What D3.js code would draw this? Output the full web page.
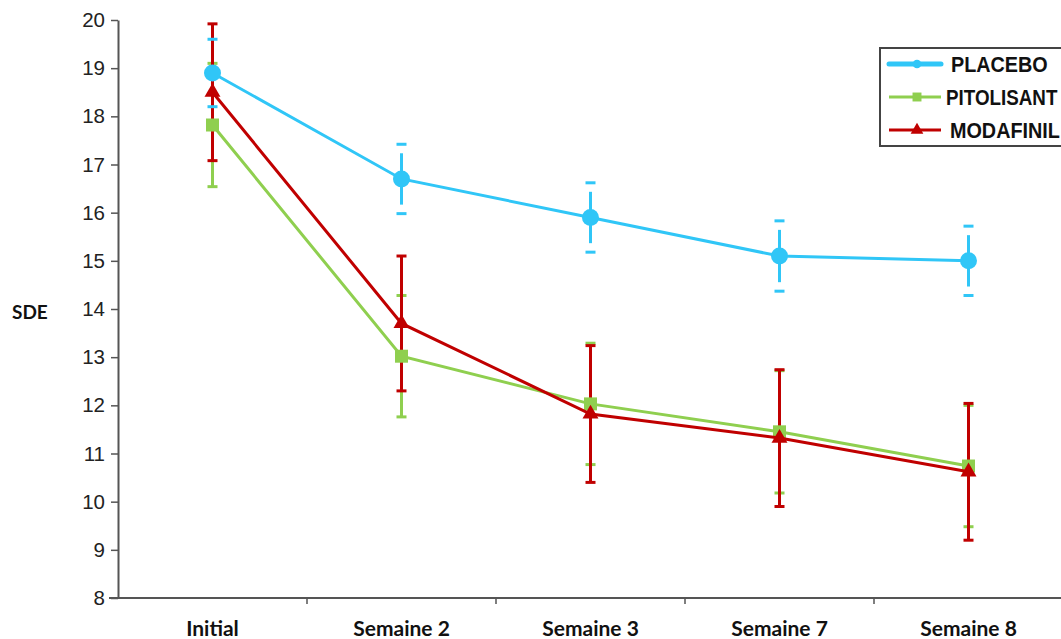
<!DOCTYPE html>
<html><head><meta charset="utf-8">
<script src="https://cdn.jsdelivr.net/npm/d3@7"></script>
<style>body{margin:0;background:#fff;overflow:hidden}</style>
</head><body>
<svg id="c" width="1061" height="639"></svg>
<script>
const categories = ["Initial","Semaine 2","Semaine 3","Semaine 7","Semaine 8"];
const seriesNames = ["PLACEBO","PITOLISANT","MODAFINIL"];
const placebo = [18.9, 16.7, 15.9, 15.1, 15.0];
const placeboErr = [0.7, 0.72, 0.72, 0.73, 0.72];
const pitolisant = [17.82, 13.02, 12.03, 11.45, 10.74];
const pitolisantErr = [1.28, 1.26, 1.26, 1.27, 1.26];
const modafinil = [18.5, 13.7, 11.82, 11.32, 10.62];
const modafinilErr = [1.42, 1.4, 1.42, 1.42, 1.42];
const yTicks = [8,9,10,11,12,13,14,15,16,17,18,19,20];

const colors = {PLACEBO:"#30C6F7", PITOLISANT:"#8FCF4F", MODAFINIL:"#C00000"};
const svg = d3.select("#c");
const x = d3.scaleBand().domain(categories).range([118, 1063]);
const y = d3.scaleLinear().domain([8,20]).range([598,20]);
const cx = c => x(c) + x.bandwidth()/2;

// y axis
const ya = svg.append("g").attr("transform","translate(118,0)")
  .call(d3.axisLeft(y).tickValues(yTicks).tickSize(7).tickPadding(6).tickSizeOuter(0));
ya.select(".domain").attr("stroke","#555").attr("stroke-width",2);
ya.selectAll(".tick line").attr("stroke","#555").attr("stroke-width",1.5);
ya.selectAll(".tick text").attr("font-family","'Liberation Sans',Arial,sans-serif").attr("font-size",20.5).attr("fill","#222");

// x axis
svg.append("line").attr("x1",109).attr("x2",1061).attr("y1",y(8)).attr("y2",y(8)).attr("stroke","#555").attr("stroke-width",2);
svg.selectAll(".xt").data(categories.slice(1)).enter().append("line")
  .attr("x1",d=>x(d)).attr("x2",d=>x(d)).attr("y1",y(8)).attr("y2",y(8)+6).attr("stroke","#555").attr("stroke-width",1.5);
svg.selectAll(".xl").data(categories).enter().append("text")
  .attr("x",d=>cx(d)).attr("y",636).attr("text-anchor","middle")
  .attr("font-family","Lato,'Open Sans',sans-serif").attr("font-weight","bold").attr("font-size",21).attr("fill","#111").text(d=>d);

svg.append("text").attr("x",12).attr("y",319).attr("font-family","Lato,'Open Sans',sans-serif")
  .attr("font-weight","bold").attr("font-size",19).attr("fill","#111").text("SDE");

const data = [
  {name:"PITOLISANT", vals:pitolisant, err:pitolisantErr},
  {name:"MODAFINIL", vals:modafinil, err:modafinilErr},
  {name:"PLACEBO", vals:placebo, err:placeboErr}
];

function errBars(s, gap){
  const g = svg.append("g");
  const col = colors[s.name];
  categories.forEach((c,i)=>{
    const m = s.vals[i], e = s.err[i];
    const yt = y(m+e), yb = y(m-e);
    g.append("line").attr("x1",cx(c)).attr("x2",cx(c)).attr("y1",yt+gap).attr("y2",yb-gap).attr("stroke",col).attr("stroke-width",3);
  });
  return g;
}
function caps(s){
  const g = svg.append("g");
  const col = colors[s.name];
  categories.forEach((c,i)=>{
    const m = s.vals[i], e = s.err[i];
    [y(m+e), y(m-e)].forEach(yy=>{
      g.append("line").attr("x1",cx(c)-5).attr("x2",cx(c)+5).attr("y1",yy).attr("y2",yy).attr("stroke",col).attr("stroke-width",3);
    });
  });
}
errBars(data[0],0); caps(data[0]);
errBars(data[2],9);
errBars(data[1],0); caps(data[1]);
caps(data[2]);

const line = d3.line().x((d,i)=>cx(categories[i])).y(d=>y(d));
const symbols = {PLACEBO:d3.symbolCircle, PITOLISANT:d3.symbolSquare, MODAFINIL:d3.symbolTriangle};
const sizes = {PLACEBO:227, PITOLISANT:169, MODAFINIL:110};
data.forEach(s=>{
  svg.append("path").datum(s.vals).attr("d",line).attr("fill","none").attr("stroke",colors[s.name]).attr("stroke-width",3);
  svg.selectAll(null).data(s.vals).enter().append("path")
    .attr("transform",(d,i)=>`translate(${cx(categories[i])},${y(d)})`)
    .attr("d",d3.symbol().type(symbols[s.name]).size(sizes[s.name])).attr("fill",colors[s.name]);
});

// legend
const lg = svg.append("g");
lg.append("rect").attr("x",880).attr("y",48).attr("width",200).attr("height",98).attr("fill","#fff").attr("stroke","#444").attr("stroke-width",2);
const legY = [64,97,130];
const legTextX = [951,946,950];
const legScale = [0.9,0.855,0.9];
const legSizes = {PLACEBO:60, PITOLISANT:80, MODAFINIL:70};
seriesNames.forEach((n,i)=>{
  lg.append("line").attr("x1",889).attr("x2",941).attr("y1",legY[i]).attr("y2",legY[i]).attr("stroke",colors[n]).attr("stroke-width",n==="PLACEBO"?5:3).attr("stroke-linecap",n==="PLACEBO"?"round":"butt");
  lg.append("path").attr("transform",`translate(917,${legY[i]})`).attr("d",d3.symbol().type(symbols[n]).size(legSizes[n])).attr("fill",colors[n]);
  lg.append("text").attr("transform",`translate(${legTextX[i]},${legY[i]+8}) scale(${legScale[i]},1)`)
    .attr("font-family","'Liberation Sans',Arial,sans-serif").attr("font-weight","bold").attr("font-size",22).attr("fill","#111").text(n);
});
</script>
</body></html>
